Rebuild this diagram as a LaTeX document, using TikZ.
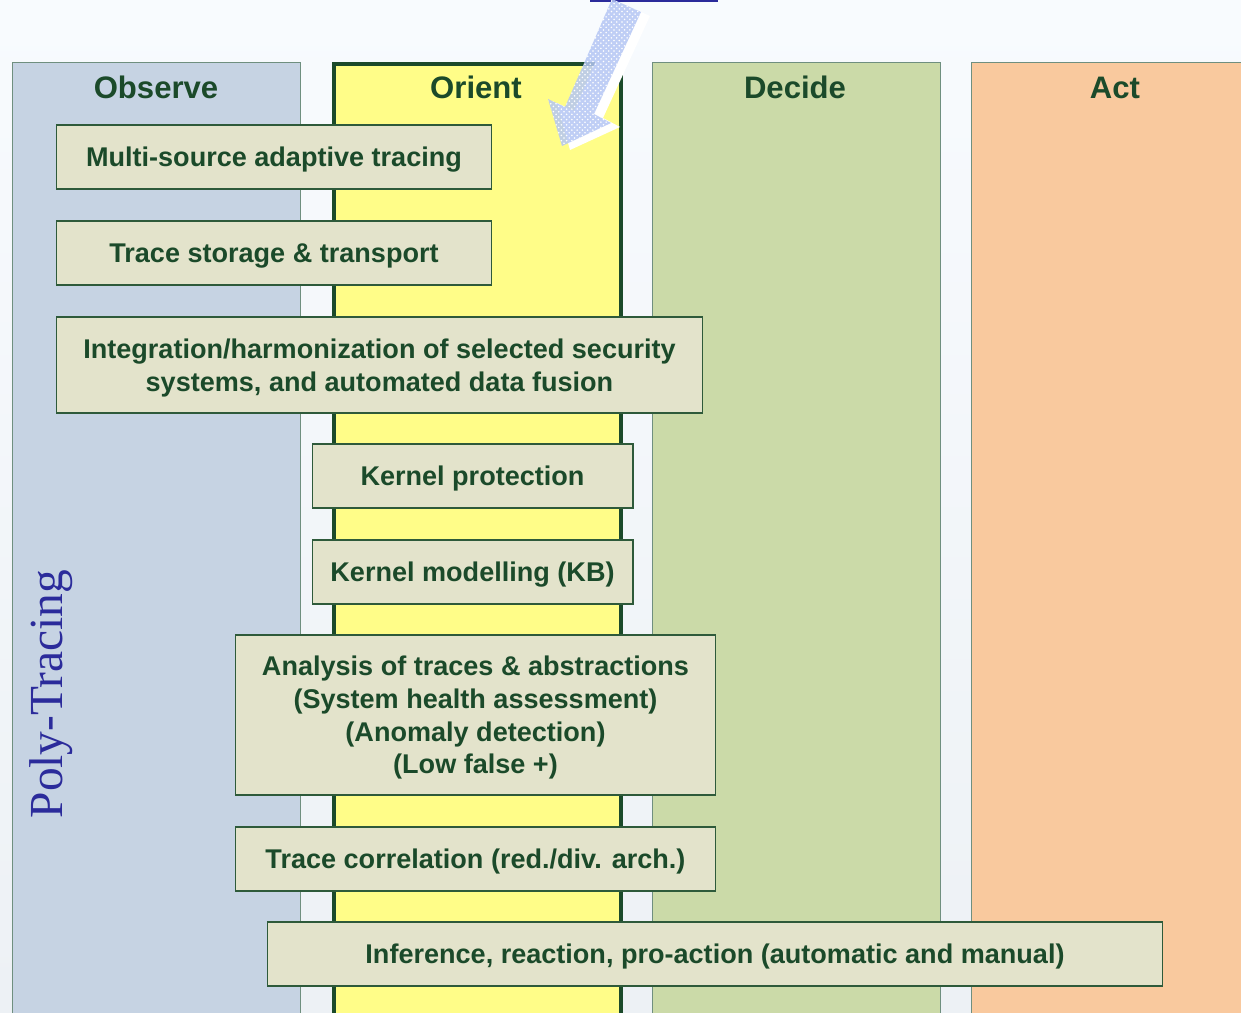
\documentclass[tikz,border=0pt]{standalone}
\usepackage{fontspec}
\setmainfont{Liberation Sans}
\newfontfamily\polyfont{Liberation Serif}
\usepackage{tikz}
\usetikzlibrary{patterns}
\usetikzlibrary{positioning}

\definecolor{bgtop}{HTML}{F8FBFE}
\definecolor{bgbot}{HTML}{EDF1F5}
\definecolor{obscol}{HTML}{C6D3E3}
\definecolor{oricol}{HTML}{FFFD88}
\definecolor{deccol}{HTML}{CBDAA8}
\definecolor{actcol}{HTML}{F9C99E}
\definecolor{boxcol}{HTML}{E3E3CB}
\definecolor{inkgreen}{HTML}{1B4A2A}
\definecolor{edgegreen}{HTML}{2E5A3A}
\definecolor{colgray}{HTML}{6F8F7F}
\definecolor{polyblue}{HTML}{2B2B9B}
\definecolor{hatchblue}{HTML}{B4C6F4}

\tikzset{
	phase/.style={rectangle,draw=colgray,line width=0.6pt,anchor=north west,minimum height=19.8cm,inner sep=0pt},
	phasehead/.style={anchor=base,text=inkgreen,font=\fontsize{17.7}{20}\selectfont\bfseries},
	taskbox/.style={rectangle,draw=edgegreen,line width=0.6pt,fill=boxcol,text=inkgreen,align=center,inner sep=0pt,
		text depth=0pt,font=\fontsize{15.4}{18.6}\selectfont\bfseries}
}

\begin{document}
\begin{tikzpicture}[x=0.02cm,y=-0.02cm]
	\useasboundingbox (0,0) rectangle (1241,1013);
	\clip (0,0) rectangle (1241,1013);
	\shade[top color=bgtop,bottom color=bgbot] (0,0) rectangle (1241,1013);
	% title underline (title itself is cut off)
	\draw[polyblue,line width=1.6pt] (590,0.6) -- (718,0.6);
	% the four OODA columns
	\node[phase,fill=obscol,minimum width=5.76cm] (observe) at (12,62) {};
	\node[phase,fill=oricol,draw=inkgreen,line width=2.3pt,minimum width=5.74cm] (orient) at (332,62) {};
	\node[phase,fill=deccol,minimum width=5.76cm] (decide) at (652,62) {};
	\node[phase,fill=actcol,minimum width=5.8cm] (act) at (971,62) {};
	\node[phasehead] (observehead) at (156,99) {Observe};
	\node[phasehead] (orienthead) at (476,99) {Orient};
	\node[phasehead] (decidehead) at (795,99) {Decide};
	\node[phasehead] (acthead) at (1115,99) {Act};
	% activities
	\node[taskbox,minimum width=8.72cm,minimum height=1.28cm] (tracing) at (274,157) {Multi-source adaptive tracing};
	\node[taskbox,minimum width=8.72cm,minimum height=1.28cm] (storage) at (274,253) {Trace storage \& transport};
	\node[taskbox,minimum width=12.94cm,minimum height=1.92cm] (fusion) at (379.5,365) {Integration/harmonization of selected security\\systems, and automated data fusion};
	\node[taskbox,minimum width=6.42cm,minimum height=1.28cm] (protect) at (472.5,476) {Kernel protection};
	\node[taskbox,minimum width=6.42cm,minimum height=1.28cm] (model) at (472.5,572) {Kernel modelling (KB)};
	\node[taskbox,minimum width=9.62cm,minimum height=3.2cm] (analysis) at (475.5,715) {Analysis of traces \& abstractions\\(System health assessment)\\(Anomaly detection)\\(Low false +)};
	\node[taskbox,minimum width=9.62cm,minimum height=1.28cm] (correl) at (475.5,859) {Trace correlation (red./div. arch.)};
	\node[taskbox,minimum width=17.92cm,minimum height=1.28cm] (react) at (715,954) {Inference, reaction, pro-action (automatic and manual)};
	\node[rotate=90,text=polyblue,font=\polyfont\fontsize{27}{30}\selectfont] (poly) at (51,694) {Poly-Tracing};
	% hatched pointer into the Orient column
	\fill[white] (650,16) -- (603,118) -- (620,127) -- (570,150) -- (557,103) -- (574,111) -- (621,3) -- cycle;
	\fill[hatchblue,opacity=0.85] (641,12) -- (594,114) -- (611,123) -- (562,146) -- (548,99) -- (565,107) -- (612,-1) -- cycle;
	\fill[pattern=crosshatch dots,pattern color=white] (641,12) -- (594,114) -- (611,123) -- (562,146) -- (548,99) -- (565,107) -- (612,-1) -- cycle;
\end{tikzpicture}
\end{document}
